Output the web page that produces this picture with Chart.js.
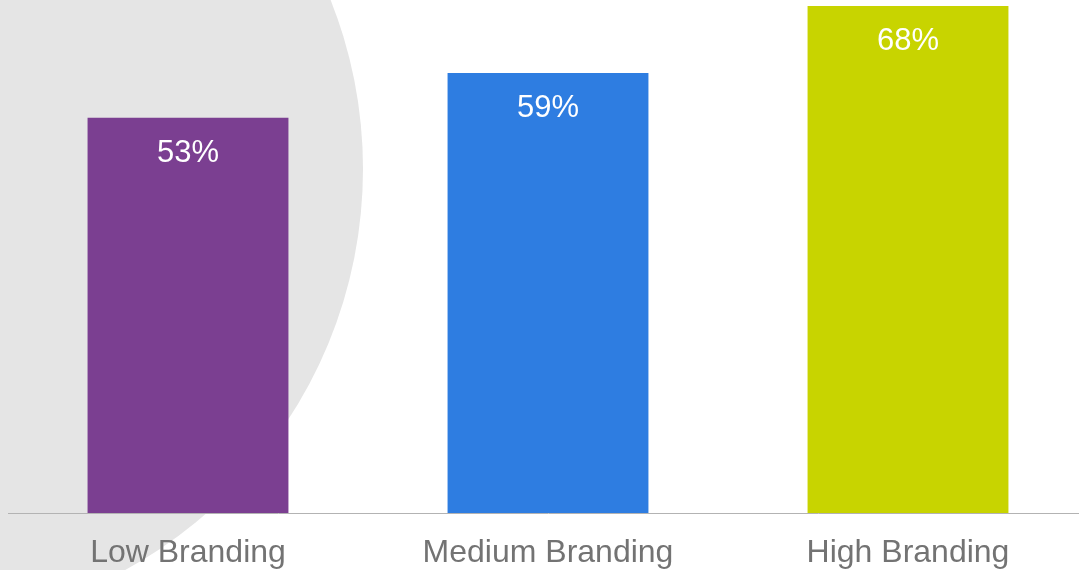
<!DOCTYPE html>
<html lang="en">
<head>
  <meta charset="UTF-8" />
  <title>Branding</title>
  <script src="https://cdn.jsdelivr.net/npm/chart.js"></script>
  <style>
    html, body { margin: 0; padding: 0; background: #fff; overflow: hidden; }
    #wrap { width: 1100px; height: 570px; }
  </style>
</head>
<body>
  <div id="wrap"><canvas id="brandChart" width="1100" height="570"></canvas></div>

  <script>
    const categories = ['Low Branding', 'Medium Branding', 'High Branding'];
    const values = [53, 59, 68];
    const barColors = ['#7b3f91', '#2e7de1', '#c8d400'];

    // big grey disc behind the left side of the chart
    const backdrop = {
      id: 'backdrop',
      beforeDraw(chart) {
        const ctx = chart.ctx;
        ctx.save();
        ctx.fillStyle = '#e5e5e5';
        ctx.beginPath();
        ctx.arc(-94, 169, 457, 0, Math.PI * 2);
        ctx.fill();
        ctx.restore();
      }
    };

    // white percentage inside the top of each bar
    const valueLabels = {
      id: 'valueLabels',
      afterDatasetsDraw(chart) {
        const ctx = chart.ctx;
        const meta = chart.getDatasetMeta(0);
        ctx.save();
        ctx.fillStyle = '#ffffff';
        ctx.font = '31px "Liberation Sans", Arial, sans-serif';
        ctx.textAlign = 'center';
        ctx.textBaseline = 'alphabetic';
        meta.data.forEach((bar, i) => {
          ctx.fillText(values[i] + '%', bar.x, bar.y + 44);
        });
        ctx.restore();
      }
    };

    new Chart(document.getElementById('brandChart'), {
      type: 'bar',
      data: {
        labels: categories,
        datasets: [{
          data: values,
          backgroundColor: barColors,
          borderWidth: 0,
          barPercentage: 0.558,
          categoryPercentage: 1
        }]
      },
      options: {
        responsive: false,
        animation: false,
        layout: { padding: { top: 6, left: 8, right: 12, bottom: -23 } },
        plugins: {
          legend: { display: false },
          tooltip: { enabled: false }
        },
        scales: {
          x: {
            grid: { display: false, drawTicks: false },
            border: { display: true, color: '#b3b3b3', width: 1 },
            ticks: {
              color: '#737373',
              padding: 24,
              font: { family: '"Liberation Sans", Arial, sans-serif', size: 32, lineHeight: 1 }
            }
          },
          y: {
            display: false,
            min: 0,
            max: 68
          }
        }
      },
      plugins: [backdrop, valueLabels]
    });
  </script>
</body>
</html>
